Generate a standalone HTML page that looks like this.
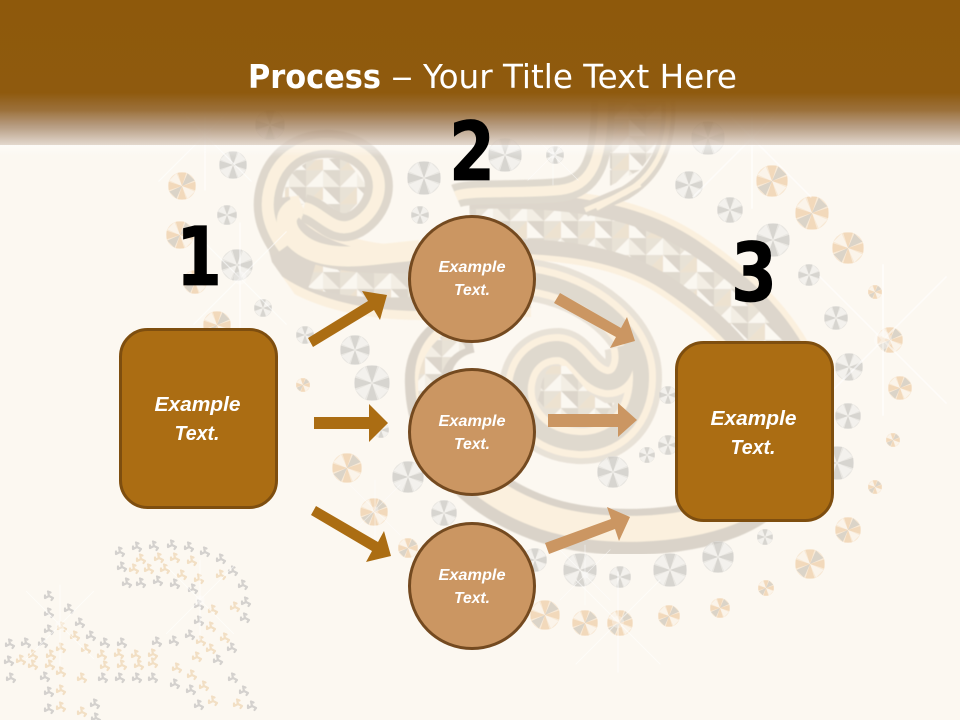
<!DOCTYPE html>
<html><head><meta charset="utf-8"><style>
html,body{margin:0;padding:0;background:#fcf8f1}
svg{display:block}
text{font-family:"Liberation Sans",sans-serif}
.t{font-family:"DejaVu Sans",sans-serif;fill:#fff}
.e{font-weight:bold;font-style:italic;fill:#fff;text-anchor:middle}
.n{font-family:"DejaVu Sans",sans-serif;font-weight:bold;font-size:81px;fill:#000;stroke:#000;stroke-width:.8px;text-anchor:middle}
</style></head><body>
<svg width="960" height="720" viewBox="0 0 960 720" xmlns="http://www.w3.org/2000/svg">
<defs>
<clipPath id="cb"><polygon points="262,190 262,225 272,262 296,296 330,316 345,330 960,330 960,190"/></clipPath>
<filter id="b1" x="-5%" y="-5%" width="110%" height="110%"><feGaussianBlur stdDeviation=".5"/></filter>
<filter id="b2" x="-5%" y="-5%" width="110%" height="110%"><feGaussianBlur stdDeviation=".35"/></filter>
<linearGradient id="top" x1="0" y1="0" x2="0" y2="1">
<stop offset="0" stop-color="#8e590b"/><stop offset=".64" stop-color="#8f5a0e"/>
<stop offset=".76" stop-color="#93642a" stop-opacity=".92"/>
<stop offset=".88" stop-color="#a88a6c" stop-opacity=".8"/>
<stop offset="1" stop-color="#dcd0c6" stop-opacity=".8"/>
</linearGradient>
<linearGradient id="tw" x1="0" y1="0" x2="0" y2="1"><stop offset="0" stop-color="#fff" stop-opacity=".5"/><stop offset="1" stop-color="#fff" stop-opacity="0"/></linearGradient>
<pattern id="tri" width="34" height="34" patternUnits="userSpaceOnUse">
<rect width="34" height="34" fill="#e6dfd3"/>
<polygon points="0,17 17,0 34,17" fill="#f2ede3"/>
<polygon points="0,17 17,17 17,0" fill="#faf7f0"/>
<polygon points="17,17 34,17 34,34" fill="#d8d1c6"/>
<polygon points="0,34 17,17 17,34" fill="#ecdfcc"/>
<polygon points="17,34 17,17 34,34" fill="#fbf8f2"/>
<polygon points="17,0 34,0 34,17" fill="#dcd5ca"/>
</pattern>
<g id="dg"><circle r="10" fill="#e2e0dc"/>
<path d="M0 0L-3-9.5L3-9.5Z M0 0L9.5-3L9.5 3Z M0 0L3 9.5L-3 9.5Z M0 0L-9.5 3L-9.5-3Z" fill="#c9c7c3"/>
<path d="M0 0L4-9L9-4Z M0 0L4 9L9 4Z M0 0L-9 4L-4 9Z M0 0L-9-4L-4-9Z" fill="#f0efec"/></g>
<g id="dp"><circle r="10" fill="#f7e3cb"/>
<path d="M0 0L-3-9.5L3-9.5Z M0 0L9.5-3L9.5 3Z M0 0L3 9.5L-3 9.5Z M0 0L-9.5 3L-9.5-3Z" fill="#efcda6"/>
<path d="M0 0L4-9L9-4Z M0 0L-9 4L-4 9Z" fill="#cfc6b9"/>
<path d="M0 0L4 9L9 4Z M0 0L-9-4L-4-9Z" fill="#fbf3e8"/></g>
<g id="s" stroke="#fff" stroke-linecap="round" fill="none">
<line x1="-42" y1="-42" x2="42" y2="42" stroke-width="1.2"/>
<line x1="42" y1="-42" x2="-42" y2="42" stroke-width="1.2"/>
<line x1="0" y1="-50" x2="0" y2="50" stroke-width="1.4"/>
<circle r="6" fill="#fff" fill-opacity=".6" stroke="none"/></g>
<g id="f" fill="none" stroke-width="2.2" stroke-linecap="round"><path d="M0 0L-1-4.5M-1-4.5L1.5-3.5M0 0L4 2M4 2L2.5 4M0 0L-4 2M-4 2L-4-.5"/></g>
<path id="curl" d="M304,208 C322,212 334,236 356,224 C380,210 388,178 366,158 C342,136 292,138 274,176 C262,204 268,226 284,248"/>
<path id="hook" d="M300,206 C282,212 284,228 296,240 C314,258 345,258 372,255 L420,250"/>
<path id="bandB" d="M262,200 C268,250 330,283 420,283 L530,280"/>
<path id="bandBt" d="M312,276 C345,286 380,286 420,285"/>
<path id="bandB2" d="M530,280 C590,288 640,330 641,375 C642,420 612,445 578,443 C540,441 517,415 520,385 C523,360 540,349 558,349 C578,350 584,378 606,382 C622,384 630,365 625,345"/>
<path id="bandA" d="M470,224 C540,222 620,225 680,265 C740,305 785,350 800,420"/>
<path id="bandA2" d="M796,400 C808,450 780,495 730,515 C680,535 600,538 545,520 C480,498 430,450 428,385 C426,355 445,335 470,330"/>
<path id="up" d="M456,196 C470,190 520,194 560,190 C590,186 603,165 603,100"/>
<path id="up2" d="M668,100 C672,150 650,178 625,193 L585,210"/>
</defs>

<rect width="960" height="720" fill="#fcf8f1"/>

<!-- swirl -->
<g fill="none" filter="url(#b1)" opacity=".88">
<polygon points="285,215 285,178 310,160 345,158 370,190 345,217 322,200 300,205" fill="url(#tri)"/>
<polygon points="530,355 560,362 582,392 612,400 615,425 565,436 532,410" fill="url(#tri)"/>
<polygon points="610,100 668,100 662,140 640,170 610,186" fill="url(#tri)"/>

<g clip-path="url(#cb)">
<use href="#bandB" stroke="#fbefdc" stroke-width="74"/>
<use href="#bandB" stroke="#d9d2c7" stroke-width="56"/>
</g>
<use href="#bandBt" stroke="url(#tri)" stroke-width="24"/>
<use href="#bandA" stroke="#fbefdc" stroke-width="72"/>
<use href="#bandA" stroke="#d9d2c7" stroke-width="60"/>
<use href="#bandA" stroke="url(#tri)" stroke-width="30"/>
<use href="#bandA2" stroke="#d6cfc4" stroke-width="46"/>
<use href="#bandA2" stroke="#fbefdc" stroke-width="26" transform="translate(0,-3)"/>
<path d="M430,395 C425,370 440,345 462,338" stroke="url(#tri)" stroke-width="22"/>

<use href="#bandB2" stroke="#e6dfd4" stroke-width="42"/>
<use href="#bandB2" stroke="#fbefdc" stroke-width="30"/>
<use href="#bandB2" stroke="#dcd5ca" stroke-width="16"/>
<polygon points="548,366 566,366 590,394 610,406 605,420 560,426 538,400" fill="url(#tri)"/>

<use href="#curl" stroke="#dad3c8" stroke-width="28"/>
<use href="#curl" stroke="#fbf0dc" stroke-width="12"/>
<use href="#hook" stroke="#fbf0dc" stroke-width="20"/>
<use href="#up" stroke="#dcd5ca" stroke-width="24"/>
<use href="#up" stroke="#fbf0dc" stroke-width="10"/>
<use href="#up2" stroke="#dad3c8" stroke-width="14"/>
<use href="#up2" stroke="#fbf0dc" stroke-width="5"/>
<path d="M596,208 L640,184" stroke="#fbf0dc" stroke-width="6"/>
</g>

<!-- gems grey -->
<g opacity=".72" filter="url(#b2)">
<use href="#dg" transform="translate(233,165) scale(1.4)"/><use href="#dg" transform="translate(227,215) scale(1)"/><use href="#dg" transform="translate(237,265) scale(1.6)"/><use href="#dg" transform="translate(263,308) scale(.9)"/><use href="#dg" transform="translate(305,335) scale(.9)"/><use href="#dg" transform="translate(355,350) scale(1.5)"/><use href="#dg" transform="translate(372,383) scale(1.8)"/><use href="#dg" transform="translate(381,430) scale(.8)"/><use href="#dg" transform="translate(408,477) scale(1.6)"/><use href="#dg" transform="translate(444,513) scale(1.3)"/><use href="#dg" transform="translate(420,215) scale(.9)"/><use href="#dg" transform="translate(424,178) scale(1.7)"/><use href="#dg" transform="translate(505,155) scale(1.7)"/><use href="#dg" transform="translate(555,155) scale(.9)"/><use href="#dg" transform="translate(689,185) scale(1.4)"/><use href="#dg" transform="translate(730,210) scale(1.3)"/><use href="#dg" transform="translate(708,138) scale(1.7)"/><use href="#dg" transform="translate(773,240) scale(1.7)"/><use href="#dg" transform="translate(809,275) scale(1.1)"/><use href="#dg" transform="translate(836,318) scale(1.2)"/><use href="#dg" transform="translate(849,367) scale(1.4)"/><use href="#dg" transform="translate(848,416) scale(1.3)"/><use href="#dg" transform="translate(837,463) scale(1.7)"/><use href="#dg" transform="translate(765,537) scale(.8)"/><use href="#dg" transform="translate(718,557) scale(1.6)"/><use href="#dg" transform="translate(670,570) scale(1.7)"/><use href="#dg" transform="translate(620,577) scale(1.1)"/><use href="#dg" transform="translate(580,570) scale(1.7)"/><use href="#dg" transform="translate(613,472) scale(1.6)"/><use href="#dg" transform="translate(647,455) scale(.8)"/><use href="#dg" transform="translate(668,445) scale(1)"/><use href="#dg" transform="translate(270,125) scale(1.5)"/><use href="#dg" transform="translate(535,560) scale(1.2)"/><use href="#dg" transform="translate(668,395) scale(.9)"/>
</g>
<!-- gems peach -->
<g opacity=".72" filter="url(#b2)">
<use href="#dp" transform="translate(182,186) scale(1.4)"/><use href="#dp" transform="translate(180,235) scale(1.4)"/><use href="#dp" transform="translate(195,282) scale(1.2)"/><use href="#dp" transform="translate(217,325) scale(1.4)"/><use href="#dp" transform="translate(303,385) scale(.7)"/><use href="#dp" transform="translate(347,468) scale(1.5)"/><use href="#dp" transform="translate(374,512) scale(1.4)"/><use href="#dp" transform="translate(408,548) scale(1)"/><use href="#dp" transform="translate(545,615) scale(1.5)"/><use href="#dp" transform="translate(585,623) scale(1.3)"/><use href="#dp" transform="translate(620,623) scale(1.3)"/><use href="#dp" transform="translate(669,616) scale(1.1)"/><use href="#dp" transform="translate(720,608) scale(1)"/><use href="#dp" transform="translate(766,588) scale(.8)"/><use href="#dp" transform="translate(810,564) scale(1.5)"/><use href="#dp" transform="translate(848,530) scale(1.3)"/><use href="#dp" transform="translate(875,487) scale(.7)"/><use href="#dp" transform="translate(893,440) scale(.7)"/><use href="#dp" transform="translate(900,388) scale(1.2)"/><use href="#dp" transform="translate(890,340) scale(1.3)"/><use href="#dp" transform="translate(875,292) scale(.7)"/><use href="#dp" transform="translate(848,248) scale(1.6)"/><use href="#dp" transform="translate(812,213) scale(1.7)"/><use href="#dp" transform="translate(772,181) scale(1.6)"/>
</g>
<!-- flowers -->
<g stroke="#cdcbc8" opacity=".85" filter="url(#b2)">
<use href="#f" x="120" y="552"/><use href="#f" x="137" y="547"/><use href="#f" x="154" y="546"/><use href="#f" x="172" y="545"/><use href="#f" x="189" y="547"/><use href="#f" x="205" y="552"/><use href="#f" x="221" y="559"/><use href="#f" x="233" y="571"/><use href="#f" x="243" y="585"/><use href="#f" x="246" y="602"/><use href="#f" x="245" y="618"/><use href="#f" x="122" y="567"/><use href="#f" x="127" y="583"/><use href="#f" x="141" y="583"/><use href="#f" x="158" y="581"/><use href="#f" x="175" y="584"/><use href="#f" x="193" y="589"/><use href="#f" x="199" y="605"/><use href="#f" x="199" y="621"/><use href="#f" x="190" y="635"/><use href="#f" x="218" y="660"/><use href="#f" x="232" y="648"/><use href="#f" x="233" y="678"/><use href="#f" x="244" y="691"/><use href="#f" x="252" y="706"/><use href="#f" x="199" y="705"/><use href="#f" x="191" y="690"/><use href="#f" x="175" y="684"/><use href="#f" x="153" y="678"/><use href="#f" x="137" y="678"/><use href="#f" x="120" y="678"/><use href="#f" x="103" y="678"/><use href="#f" x="45" y="677"/><use href="#f" x="49" y="692"/><use href="#f" x="49" y="709"/><use href="#f" x="95" y="704"/><use href="#f" x="96" y="718"/><use href="#f" x="11" y="678"/><use href="#f" x="9" y="661"/><use href="#f" x="10" y="644"/><use href="#f" x="26" y="643"/><use href="#f" x="43" y="643"/><use href="#f" x="49" y="630"/><use href="#f" x="49" y="613"/><use href="#f" x="49" y="596"/><use href="#f" x="69" y="609"/><use href="#f" x="80" y="623"/><use href="#f" x="91" y="636"/><use href="#f" x="105" y="643"/><use href="#f" x="122" y="643"/><use href="#f" x="157" y="642"/><use href="#f" x="174" y="641"/>
</g>
<g stroke="#f0dbbd" opacity=".85" filter="url(#b2)">
<use href="#f" x="141" y="559"/><use href="#f" x="159" y="558"/><use href="#f" x="175" y="558"/><use href="#f" x="192" y="561"/><use href="#f" x="134" y="569"/><use href="#f" x="149" y="569"/><use href="#f" x="165" y="569"/><use href="#f" x="182" y="575"/><use href="#f" x="199" y="579"/><use href="#f" x="221" y="575"/><use href="#f" x="235" y="607"/><use href="#f" x="213" y="610"/><use href="#f" x="211" y="627"/><use href="#f" x="225" y="638"/><use href="#f" x="201" y="641"/><use href="#f" x="211" y="649"/><use href="#f" x="197" y="657"/><use href="#f" x="177" y="668"/><use href="#f" x="192" y="675"/><use href="#f" x="204" y="686"/><use href="#f" x="213" y="701"/><use href="#f" x="238" y="704"/><use href="#f" x="62" y="627"/><use href="#f" x="75" y="636"/><use href="#f" x="61" y="648"/><use href="#f" x="51" y="655"/><use href="#f" x="86" y="649"/><use href="#f" x="50" y="665"/><use href="#f" x="33" y="655"/><use href="#f" x="21" y="660"/><use href="#f" x="33" y="665"/><use href="#f" x="61" y="672"/><use href="#f" x="82" y="678"/><use href="#f" x="61" y="690"/><use href="#f" x="82" y="712"/><use href="#f" x="61" y="707"/><use href="#f" x="119" y="654"/><use href="#f" x="136" y="655"/><use href="#f" x="153" y="654"/><use href="#f" x="122" y="665"/><use href="#f" x="139" y="665"/><use href="#f" x="153" y="663"/><use href="#f" x="105" y="666"/><use href="#f" x="102" y="655"/>
</g>
<!-- sparkles -->
<g opacity=".55" filter="url(#b2)">
<use href="#s" transform="translate(205,135) scale(1.1)"/><use href="#s" transform="translate(752,138) scale(1.4)"/><use href="#s" transform="translate(883,340) scale(1.5)"/><use href="#s" transform="translate(240,278) scale(1.1)"/><use href="#s" transform="translate(618,622) scale(1)"/><use href="#s" transform="translate(585,575) scale(.6)"/><use href="#s" transform="translate(375,510) scale(.6)"/><use href="#s" transform="translate(60,625) scale(.8)"/><use href="#s" transform="translate(200,600) scale(.8)"/><use href="#s" transform="translate(553,155) scale(.6)"/>
</g>

<!-- header band -->
<rect x="0" y="145" width="960" height="12" fill="url(#tw)"/>
<rect x="0" y="0" width="960" height="145" fill="url(#top)"/>

<!-- title -->
<text class="t" x="248" y="88" font-size="33" font-weight="bold" textLength="133" lengthAdjust="spacingAndGlyphs">Process</text>
<text class="t" x="391" y="88" font-size="33" textLength="22" lengthAdjust="spacingAndGlyphs">–</text>
<text class="t" x="423" y="88" font-size="33" textLength="314" lengthAdjust="spacingAndGlyphs">Your Title Text Here</text>

<!-- numbers -->
<text class="n" x="199" y="285" textLength="46" lengthAdjust="spacingAndGlyphs">1</text>
<text class="n" x="472" y="180" textLength="46" lengthAdjust="spacingAndGlyphs">2</text>
<text class="n" x="754" y="301" textLength="46" lengthAdjust="spacingAndGlyphs">3</text>

<!-- arrows dark -->
<g fill="#ab6d13">
<polygon points="308,338 313,347 374,310 380,320 387,295 362,291 368,301"/>
<polygon points="314,417 369,417 369,404 388,423 369,442 369,429 314,429"/>
<polygon points="316,506 378,542 384,531 391,556 366,562 372,551 311,515"/>
</g>
<!-- arrows light -->
<g fill="#cb9662">
<polygon points="560,293 621,328 627,317 635,341 610,348 616,337 554,303"/>
<polygon points="548,414 618,414 618,403 637,420 618,437 618,427 548,427"/>
<polygon points="545,543 611,519 607,507 630,517 619,541 615,529 549,554"/>
</g>

<!-- rects -->
<rect x="120.5" y="329.5" width="156" height="178" rx="27" fill="#ab6d13" stroke="#7e4e0f" stroke-width="3"/>
<rect x="676.5" y="342.5" width="156" height="178" rx="27" fill="#ab6d13" stroke="#7e4e0f" stroke-width="3"/>
<!-- circles -->
<g fill="#cb9662" stroke="#744a20" stroke-width="3">
<circle cx="472" cy="279" r="62.5"/><circle cx="472" cy="432" r="62.5"/><circle cx="472" cy="586" r="62.5"/>
</g>

<!-- labels -->
<g font-size="20">
<text class="e" x="197.5" y="411" textLength="86" lengthAdjust="spacingAndGlyphs">Example</text>
<text class="e" x="197" y="440" textLength="45" lengthAdjust="spacingAndGlyphs">Text.</text>
<text class="e" x="753.5" y="425" textLength="86" lengthAdjust="spacingAndGlyphs">Example</text>
<text class="e" x="753" y="454" textLength="45" lengthAdjust="spacingAndGlyphs">Text.</text>
</g>
<g font-size="16">
<text class="e" x="472" y="272" textLength="67" lengthAdjust="spacingAndGlyphs">Example</text>
<text class="e" x="472" y="295" textLength="36" lengthAdjust="spacingAndGlyphs">Text.</text>
<text class="e" x="472" y="426" textLength="67" lengthAdjust="spacingAndGlyphs">Example</text>
<text class="e" x="472" y="449" textLength="36" lengthAdjust="spacingAndGlyphs">Text.</text>
<text class="e" x="472" y="580" textLength="67" lengthAdjust="spacingAndGlyphs">Example</text>
<text class="e" x="472" y="603" textLength="36" lengthAdjust="spacingAndGlyphs">Text.</text>
</g>
</svg>
</body></html>
